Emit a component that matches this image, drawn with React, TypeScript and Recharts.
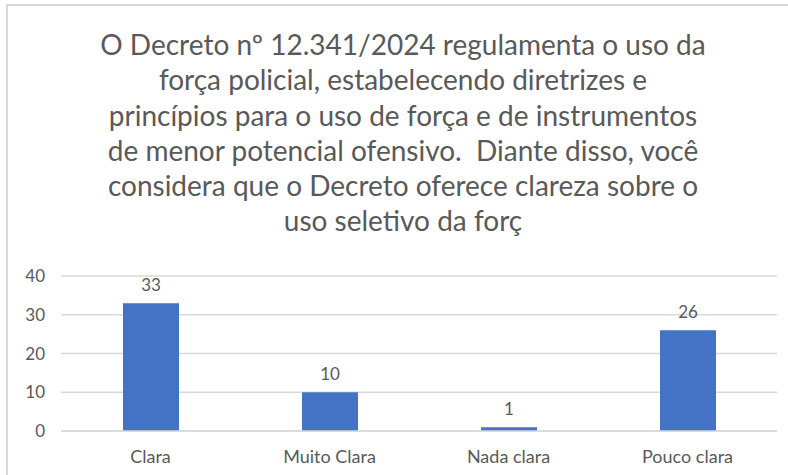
import { BarChart, Bar, XAxis, YAxis, CartesianGrid, LabelList } from 'recharts'

const categories = ['Clara', 'Muito Clara', 'Nada clara', 'Pouco clara']
const counts = [33, 10, 1, 26]
const yTicks = [0, 10, 20, 30, 40]
const titleLines = [
  'O Decreto nº 12.341/2024 regulamenta o uso da',
  'força policial, estabelecendo diretrizes e',
  'princípios para o uso de força e de instrumentos',
  'de menor potencial ofensivo.  Diante disso, você',
  'considera que o Decreto oferece clareza sobre o',
  'uso seletivo da forç',
]

const data = categories.map((name, i) => ({ name, value: counts[i] }))

const font = 'Lato, "Open Sans", sans-serif'
const grey = '#595959'

export default function App() {
  return (
    <div style={{ position: 'absolute', left: 0, top: 0, width: 788, height: 475, overflow: 'hidden', background: '#fff', fontFamily: font }}>
      <div style={{ position: 'absolute', left: 6, top: 4, width: 800, height: 500, borderLeft: '2px solid #d9d9d9', borderTop: '2px solid #d9d9d9' }} />
      <div style={{ position: 'absolute', left: 0, top: 27, width: 806, textAlign: 'center', color: grey, fontSize: 28, lineHeight: '35.3px', whiteSpace: 'pre' }}>
        {titleLines.map((l, i) => (
          <div key={i}>{l}</div>
        ))}
      </div>
      <div style={{ position: 'absolute', left: 0, top: 0 }}>
        <BarChart width={788} height={475} data={data} margin={{ top: 276, right: 11, bottom: 0, left: 0 }}>
          <CartesianGrid vertical={false} stroke="#d9d9d9" strokeWidth={1.5} />
          <XAxis
            dataKey="name"
            height={44}
            axisLine={{ stroke: '#d9d9d9', strokeWidth: 1.5 }}
            tickLine={false}
            tickSize={0}
            tickMargin={19}
            tick={{ fill: grey, fontSize: 18, fontFamily: font }}
          />
          <YAxis
            width={61}
            domain={[0, 40]}
            ticks={yTicks}
            axisLine={false}
            tickLine={false}
            tickSize={0}
            tickMargin={16}
            tick={{ fill: grey, fontSize: 17, fontFamily: font }}
          />
          <Bar dataKey="value" fill="#4472C4" barSize={56} isAnimationActive={false}>
            <LabelList dataKey="value" position="top" offset={12} fill={grey} fontSize={17} fontFamily={font} />
          </Bar>
        </BarChart>
      </div>
    </div>
  )
}
